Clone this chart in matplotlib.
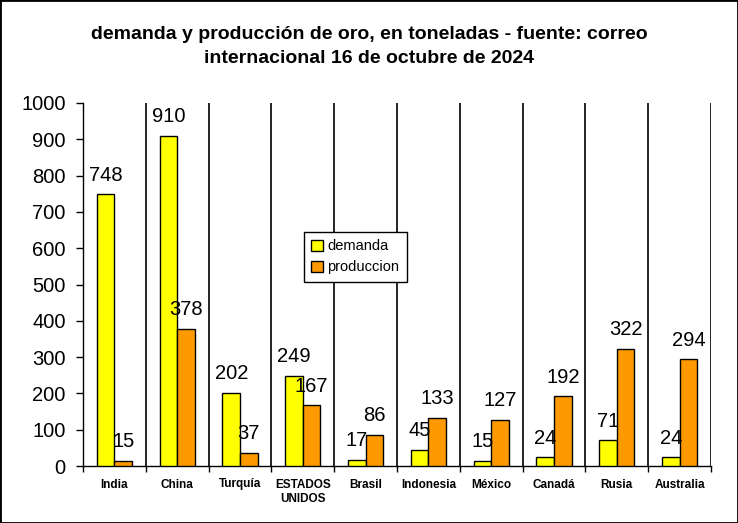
import matplotlib
import matplotlib.pyplot as plt
import numpy as np
from matplotlib.patches import Rectangle

matplotlib.use('Agg')

paises = ['India', 'China', 'Turquía', 'ESTADOS\nUNIDOS', 'Brasil',
          'Indonesia', 'México', 'Canadá', 'Rusia', 'Australia']
demanda = [748, 910, 202, 249, 17, 45, 15, 24, 71, 24]
produccion = [15, 378, 37, 167, 86, 133, 127, 192, 322, 294]

plt.rcParams['font.family'] = ['Liberation Sans', 'DejaVu Sans']

fig = plt.figure(figsize=(7.38, 5.23), dpi=100)
ax = fig.add_axes([83 / 738, 1 - 466 / 523, 628 / 738, 363 / 523])

x = np.arange(len(paises)) + 0.5  # category centres
width = 0.279  # bar width

b1 = ax.bar(x - width / 2, demanda, width, color='#FFFF00', edgecolor='black',
            linewidth=1, label='demanda', zorder=3)
b2 = ax.bar(x + width / 2, produccion, width, color='#FF9900', edgecolor='black',
            linewidth=1, label='produccion', zorder=3)

for bars in (b1, b2):
    for rect in bars:
        h = rect.get_height()
        ax.annotate(f'{h:.0f}', (rect.get_x() + rect.get_width() / 2, h),
                    xytext=(0, 7), textcoords='offset points',
                    ha='center', va='bottom', fontsize=14.5, zorder=4)

ax.set_xlim(0, len(paises))
ax.set_ylim(0, 1000)
ax.set_yticks(np.arange(0, 1001, 100))
ax.tick_params(axis='y', labelsize=14.5, direction='out', length=5, width=1, pad=7.5)

ax.set_xticks(np.arange(len(paises) + 1))
ax.set_xticklabels([])
ax.tick_params(axis='x', which='major', direction='out', length=4, width=1)
ax.set_xticks(x, minor=True)
ax.set_xticklabels(paises, minor=True, fontsize=8.5, fontweight='bold',
                   linespacing=1.25)
ax.tick_params(axis='x', which='minor', length=0, pad=9)
ax.grid(axis='x', which='major', color='black', linewidth=1.2, zorder=1)

ax.spines['top'].set_visible(False)
ax.spines['right'].set_visible(False)
for s in ('left', 'bottom'):
    ax.spines[s].set_linewidth(1)

leg = ax.legend(loc='upper left', bbox_to_anchor=(0.352, 0.645), fancybox=False,
                edgecolor='black', framealpha=1, fontsize=10.5, borderaxespad=0,
                handlelength=0.8, handleheight=0.8, handletextpad=0.3,
                labelspacing=0.5, borderpad=0.5)
leg.get_frame().set_linewidth(1)

fig.suptitle('demanda y producción de oro, en toneladas - fuente: correo\n'
             'internacional 16 de octubre de 2024',
             x=0.5, y=0.95, fontsize=14, fontweight='bold', linespacing=1.55)

fig.patches.append(Rectangle((0, 0), 1, 1, transform=fig.transFigure,
                             fill=False, edgecolor='black', linewidth=2))

plt.savefig('out.png', dpi=100)
